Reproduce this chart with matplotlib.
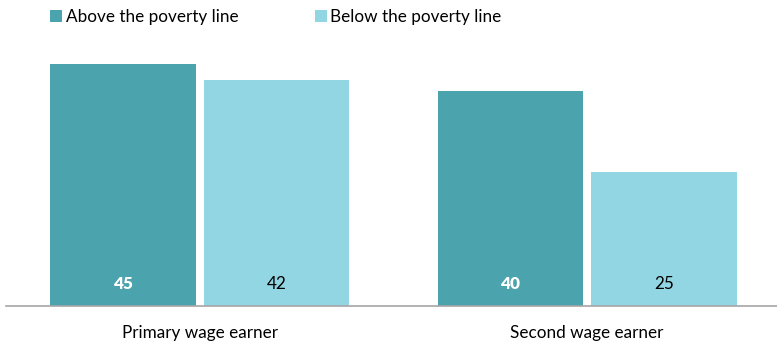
import numpy as np
import matplotlib.pyplot as plt

# Data
categories = ["Primary wage earner", "Second wage earner"]
above = [45, 40]
below = [42, 25]
series_names = ["Above the poverty line", "Below the poverty line"]

c_above = "#4BA3AE"
c_below = "#93D6E3"

plt.rcParams['font.family'] = ['Lato', 'DejaVu Sans']

fig = plt.figure(figsize=(7.77, 3.43), dpi=100)
ax = fig.add_axes([6/777, 37/343, 1 - 6/777, 269/343])

x = np.arange(len(categories))
w = 0.376
off = 0.198
b1 = ax.bar(x - off, above, w, color=c_above, label=series_names[0])
b2 = ax.bar(x + off, below, w, color=c_below, label=series_names[1])

for xi, v in zip(x - off, above):
    ax.text(xi, 4, str(v), ha='center', va='center', color='white',
            fontsize=12.3, fontweight='heavy')
for xi, v in zip(x + off, below):
    ax.text(xi, 4, str(v), ha='center', va='center', color='black',
            fontsize=12.3)

ax.set_xlim(-0.5, 1.49)
ax.set_ylim(0, 50)
ax.set_yticks([])
ax.set_xticks(x)
ax.set_xticklabels(categories, fontsize=12.3)
ax.tick_params(axis='x', length=0, pad=14)
for s in ['top', 'right', 'left']:
    ax.spines[s].set_visible(False)
ax.spines['bottom'].set_color('#A6A6A6')
ax.spines['bottom'].set_linewidth(1.2)

leg = fig.legend(handles=[b1, b2], loc='upper left', bbox_to_anchor=(40/777, 1.005),
                 ncol=2, frameon=False, fontsize=12.3, handlelength=0.7,
                 handleheight=0.7, handletextpad=0.2, columnspacing=4.47,
                 borderaxespad=0.2)

fig.savefig("out.png", dpi=100)
